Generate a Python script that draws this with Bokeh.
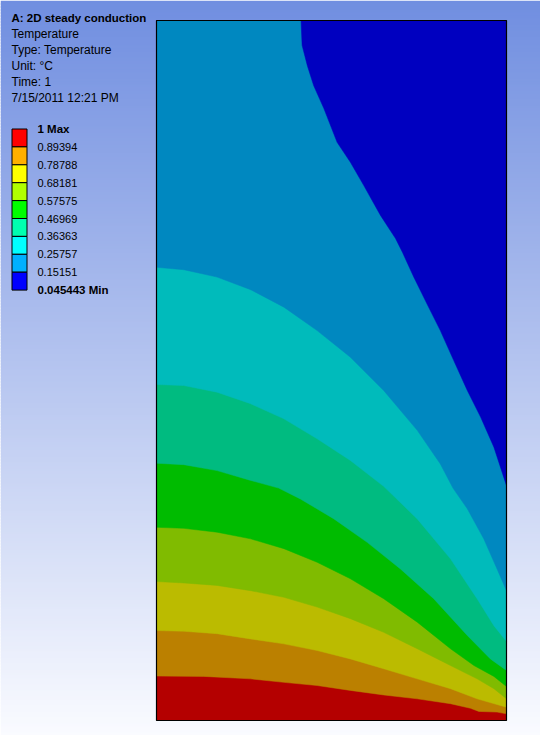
import numpy as np
from bokeh.plotting import figure
from bokeh.models import Range1d
from bokeh.embed import file_html
from bokeh.resources import INLINE
from bokeh.core.properties import value

# ---------------- data ----------------
title_lines = ["A: 2D steady conduction", "Temperature", "Type: Temperature",
               "Unit: °C", "Time: 1", "7/15/2011 12:21 PM"]

legend_labels = ["1 Max", "0.89394", "0.78788", "0.68181", "0.57575",
                 "0.46969", "0.36363", "0.25757", "0.15151", "0.045443 Min"]
legend_colors = ["#ff0000", "#ffb000", "#ffff00", "#b0ff00", "#00ff00",
                 "#00ffb0", "#00ffff", "#00b0ff", "#0000ff"]

# shaded band colours in the model, from hottest (bottom) to coldest
band_colors = ["#b40000", "#bb8000", "#bbbb00", "#80bb00", "#00bb00",
               "#00bb80", "#00bbbb", "#0088c0", "#0000c0"]

# plate size (relative units)
W, H = 1.0, 2.0

# isotherm boundaries (x, y in plate units)
iso_levels = [0.89394, 0.78788, 0.68181, 0.57575, 0.46969, 0.36363, 0.25757, 0.15151]
iso_x = [
    [0.0, 0.135, 0.269, 0.364, 0.459, 0.554, 0.649, 0.745, 0.840, 0.897, 0.921, 0.973, 1.0],
    [0.0, 0.078, 0.173, 0.269, 0.364, 0.459, 0.554, 0.649, 0.745, 0.840, 0.916, 1.0],
    [0.0, 0.078, 0.173, 0.269, 0.364, 0.459, 0.554, 0.649, 0.745, 0.840, 0.916, 0.964, 1.0],
    [0.0, 0.078, 0.173, 0.269, 0.364, 0.459, 0.554, 0.649, 0.745, 0.840, 0.907, 0.964, 1.0],
    [0.0, 0.078, 0.173, 0.269, 0.349, 0.411, 0.507, 0.602, 0.697, 0.792, 0.888, 0.954, 1.0],
    [0.0, 0.078, 0.173, 0.269, 0.364, 0.459, 0.554, 0.649, 0.745, 0.840, 0.916, 0.964, 1.0],
    [0.0, 0.078, 0.173, 0.269, 0.364, 0.459, 0.554, 0.649, 0.745, 0.811, 0.847, 0.888, 0.935, 0.973, 1.0],
    [0.413, 0.416, 0.431, 0.449, 0.478, 0.516, 0.554, 0.592, 0.640, 0.683, 0.703, 0.735,
     0.773, 0.811, 0.849, 0.888, 0.926, 0.964, 1.0],
]
iso_y = [
    [0.127, 0.126, 0.119, 0.109, 0.100, 0.086, 0.073, 0.062, 0.048, 0.035, 0.026, 0.024, 0.019],
    [0.257, 0.255, 0.248, 0.233, 0.219, 0.200, 0.176, 0.148, 0.119, 0.091, 0.062, 0.038],
    [0.397, 0.393, 0.386, 0.371, 0.352, 0.324, 0.291, 0.252, 0.205, 0.157, 0.119, 0.091, 0.062],
    [0.552, 0.549, 0.538, 0.519, 0.491, 0.452, 0.405, 0.348, 0.281, 0.205, 0.157, 0.126, 0.097],
    [0.735, 0.731, 0.714, 0.686, 0.664, 0.633, 0.576, 0.509, 0.433, 0.348, 0.243, 0.176, 0.143],
    [0.960, 0.957, 0.938, 0.905, 0.862, 0.805, 0.743, 0.669, 0.576, 0.462, 0.348, 0.271, 0.226],
    [1.295, 1.288, 1.267, 1.231, 1.181, 1.114, 1.038, 0.943, 0.829, 0.733, 0.664, 0.605, 0.519, 0.433, 0.371],
    [2.0, 1.929, 1.871, 1.814, 1.749, 1.652, 1.595, 1.529, 1.443, 1.377, 1.337, 1.267,
     1.190, 1.114, 1.029, 0.943, 0.867, 0.781, 0.671],
]

# ---------------- layout helpers (canvas pixels -> plate units) ----------------
PX0, PY0, S = 156.0, 720.0, 350.0
def X(px):
    return (px - PX0) / S
def Y(py):
    return (PY0 - py) / S

FW, FH = 540, 735
p = figure(width=FW, height=FH, output_backend="svg", toolbar_location=None,
           x_range=Range1d(X(0), X(FW)), y_range=Range1d(Y(FH), Y(0)),
           min_border=0)
p.axis.visible = False
p.grid.visible = False
p.outline_line_color = None
p.background_fill_color = "#ffffff"
p.border_fill_color = "#ffffff"

# background vertical gradient
top_c = np.array([112, 142, 224])
bot_c = np.array([250, 251, 255])
step = 3
ys = np.arange(0, FH, step)
cols = []
for yy in ys:
    t = (yy + step / 2) / float(FH)
    c = top_c + (bot_c - top_c) * t
    cols.append("#%02x%02x%02x" % tuple(int(round(v)) for v in c))
p.quad(left=X(0), right=X(FW), top=[Y(v) for v in ys], bottom=[Y(v + step + 1) for v in ys],
       fill_color=cols, line_color=None)

# model: bottom band then layered regions above each isotherm
p.quad(left=0, right=W, bottom=0, top=H, fill_color=band_colors[0], line_color=None)
for k in range(len(iso_levels)):
    xs = list(iso_x[k]) + [W, 0.0]
    yv = list(iso_y[k]) + [H, H]
    p.patch(xs, yv, fill_color=band_colors[k + 1], line_color=band_colors[k + 1], line_width=0.5)
p.quad(left=0, right=W, bottom=0, top=H, fill_color=None, line_color="black", line_width=1.2)

# legend
box_top, box_h = 128.5, 17.9
n = len(legend_colors)
p.quad(left=X(11.5), right=X(26.5),
       top=[Y(box_top + i * box_h) for i in range(n)],
       bottom=[Y(box_top + (i + 1) * box_h) for i in range(n)],
       fill_color=legend_colors, line_color="black", line_width=1)

font = value("Liberation Sans")
lab_y = [Y(box_top + i * box_h) for i in range(len(legend_labels))]
reg = list(range(1, len(legend_labels) - 1))
p.text(x=[X(37)] * len(reg), y=[lab_y[i] for i in reg], text=[legend_labels[i] for i in reg],
       text_font=font, text_font_size="11px", text_baseline="middle", text_color="black")
p.text(x=[X(37)] * 2, y=[lab_y[0], lab_y[-1]], text=[legend_labels[0], legend_labels[-1]],
       text_font=font, text_font_size="11.5px", text_font_style="bold",
       text_baseline="middle", text_color="black")

# header
p.text(x=[X(11)], y=[Y(17)], text=[title_lines[0]], text_font=font, text_font_size="11.5px",
       text_font_style="bold", text_baseline="middle", text_color="black")
p.text(x=[X(11)] * (len(title_lines) - 1), y=[Y(17 + 16 * i) for i in range(1, len(title_lines))],
       text=title_lines[1:], text_font=font, text_font_size="12px",
       text_baseline="middle", text_color="black")

open("out.html", "w").write(file_html(p, INLINE))
